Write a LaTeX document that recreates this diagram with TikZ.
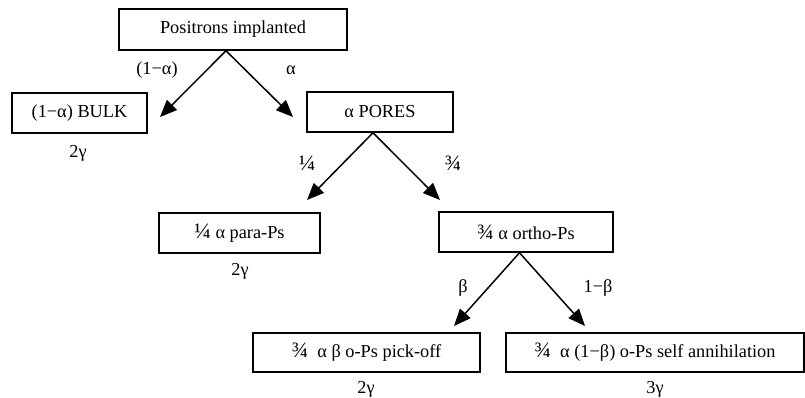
\documentclass[tikz,border=0pt]{standalone}
\usepackage{fontspec}
\setmainfont{Liberation Serif}
\usetikzlibrary{arrows.meta}
\newcommand\bigfr[1]{{\fontsize{22}{22}\selectfont #1}}
\begin{document}
\begin{tikzpicture}[x=1pt,y=-1pt,
  box/.style={draw=black,line width=1.5pt,inner sep=0pt,minimum height=40pt,font=\fontsize{18.3}{22}\selectfont},
  lbl/.style={inner sep=0pt,font=\fontsize{18.3}{22}\selectfont},
  arr/.style={line width=1.5pt,-{Triangle[length=17pt,width=14pt]}}]
\useasboundingbox (0,0) rectangle (805,397);
\node[box,minimum width=228pt,minimum height=41pt] (P) at (233,29.5) {Positrons implanted};
\node[box,minimum width=135pt] (B) at (79.5,113) {(1−α) BULK};
\node[box,minimum width=146pt] (R) at (380,112) {α PORES};
\node[box,minimum width=161pt] (pp) at (239.5,233) {\bigfr{¼} α para-Ps};
\node[box,minimum width=174pt] (op) at (526,232) {\bigfr{¾} α ortho-Ps};
\node[box,minimum width=227pt,minimum height=39pt] (pk) at (366.5,352.5) {\bigfr{¾}~ α β o-Ps pick-off};
\node[box,minimum width=298pt,minimum height=39pt] (sa) at (655,352.5) {\bigfr{¾}~ α (1−β) o-Ps self annihilation};
\coordinate (t1) at (160,117);
\coordinate (t2) at (293,117);
\coordinate (t3) at (307,200);
\coordinate (t4) at (440,200);
\coordinate (t5) at (454,326);
\coordinate (t6) at (585,326);
\draw[arr] ([xshift=-7pt]P.south) -- (t1);
\draw[arr] ([xshift=-7pt]P.south) -- (t2);
\draw[arr] ([xshift=-7pt]R.south) -- (t3);
\draw[arr] ([xshift=-7pt]R.south) -- (t4);
\draw[arr] ([xshift=-6.5pt]op.south) -- (t5);
\draw[arr] ([xshift=-6.5pt]op.south) -- (t6);
\node[lbl] (l1) at (157,70) {(1−α)};
\node[lbl] (l2) at (291,70) {α};
\node[lbl] (l3) at (307,163) {\bigfr{¼}};
\node[lbl] (l4) at (453,163) {\bigfr{¾}};
\node[lbl] (l5) at (463,288) {β};
\node[lbl] (l6) at (598,288) {1−β};
\node[lbl] (g1) at (78,153) {2γ};
\node[lbl] (g2) at (240,271) {2γ};
\node[lbl] (g3) at (366,389) {2γ};
\node[lbl] (g4) at (655,389) {3γ};
\end{tikzpicture}
\end{document}
